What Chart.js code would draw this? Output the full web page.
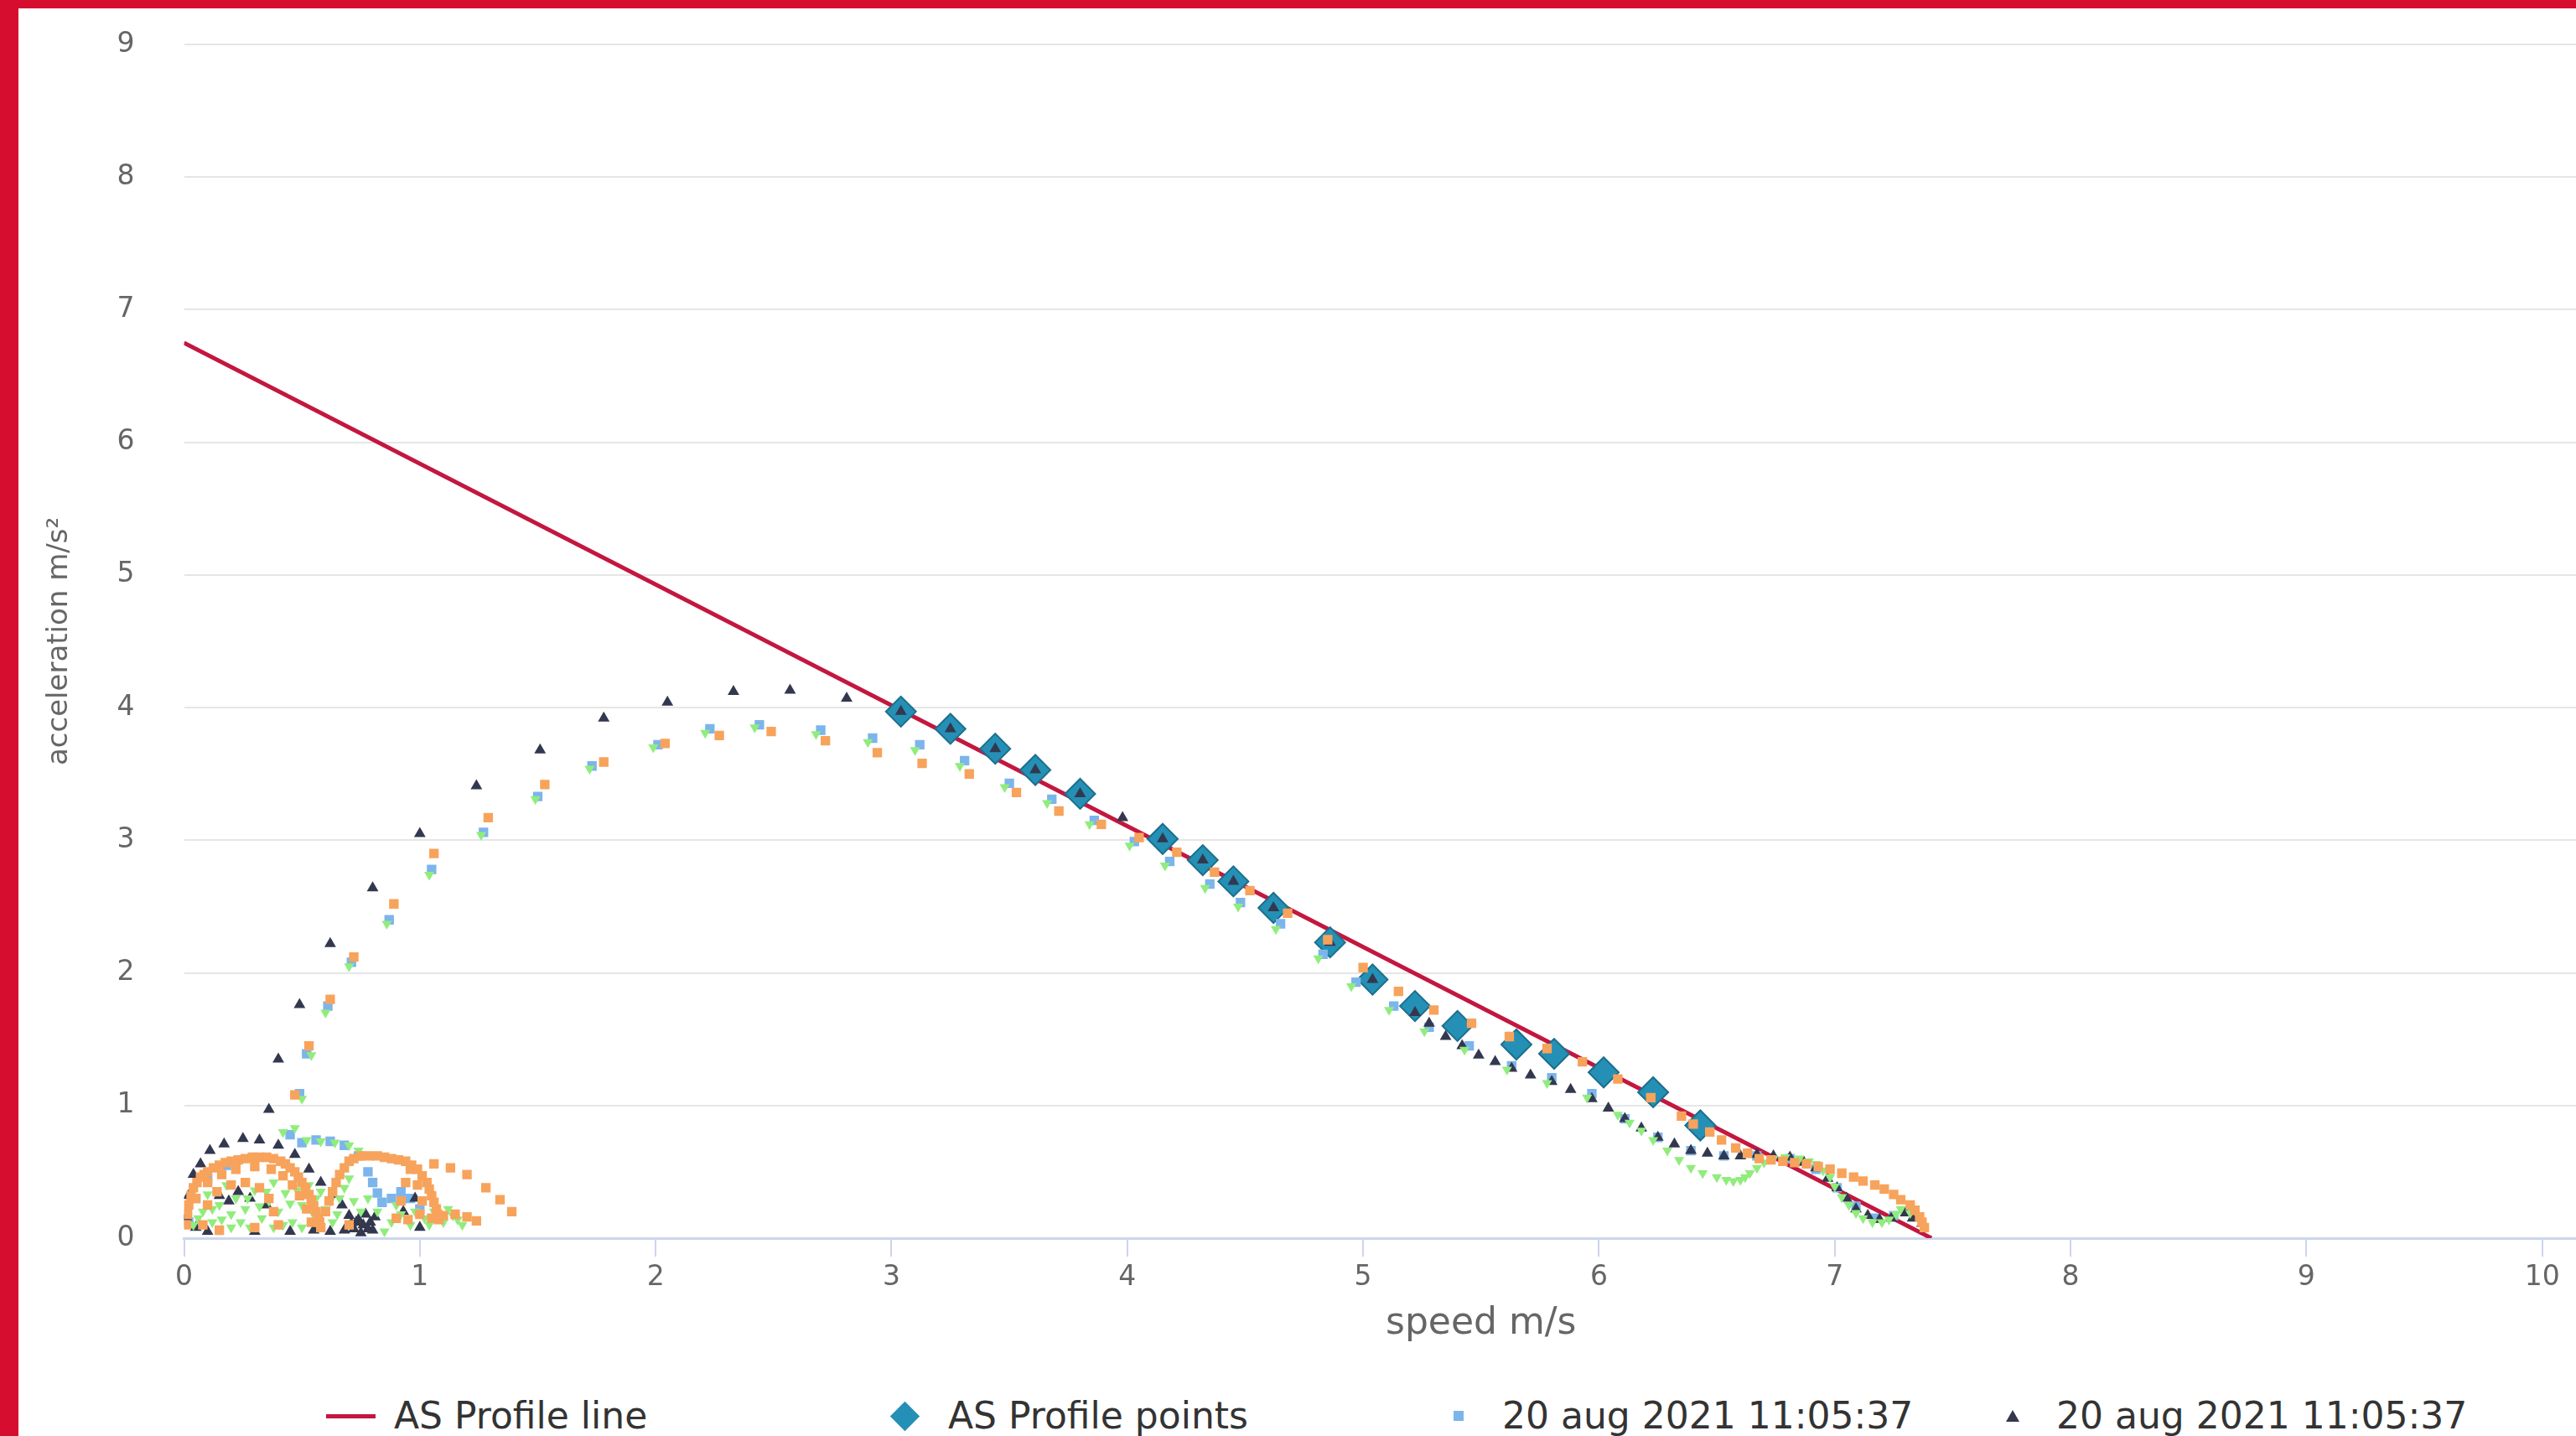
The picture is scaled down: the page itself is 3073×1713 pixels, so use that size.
<!DOCTYPE html>
<html>
<head>
<meta charset="utf-8">
<script src="https://cdn.jsdelivr.net/npm/chart.js@4.4.0/dist/chart.umd.min.js"></script>
<style>
  html, body { margin: 0; width: 3073px; height: 1713px; overflow: hidden; background: #d70d30; }
  #panel { position: absolute; left: 22px; top: 10px; width: 3400px; height: 1800px; background: #fff; }
  #chart { position: absolute; left: 0; top: 0; }
  #legend { position: absolute; left: 366px; top: 1657px; display: flex; font-family: 'DejaVu Sans', sans-serif; font-size: 44px; line-height: 1; color: #333; }
  .item { width: 661px; display: flex; align-items: center; white-space: nowrap; }
  .mark { width: 60px; height: 44px; margin-right: 22px; display: flex; align-items: center; justify-content: center; }
  .mark-line { width: 59px; height: 5px; }
  .mark-diamond { width: 25px; height: 25px; transform: rotate(45deg); }
  .mark-square { width: 12px; height: 12px; }
  .mark-triangle { width: 0; height: 0; border-left: 8px solid transparent; border-right: 8px solid transparent; }
</style>
</head>
<body>
<div id="panel">
  <canvas id="chart" width="3322" height="1617"></canvas>
  <div id="legend"></div>
</div>
<script>
// AS profile line (start and end of the straight profile)
const profileLine = [[0, 6.75], [7.41, 0]];

// AS profile points (diamonds)
const profilePoints = [
  [3.04, 3.97], [3.25, 3.84], [3.44, 3.69], [3.61, 3.53], [3.80, 3.35], [4.15, 3.01],
  [4.32, 2.85], [4.45, 2.69], [4.62, 2.49], [4.86, 2.23], [5.04, 1.95], [5.22, 1.75],
  [5.40, 1.60], [5.65, 1.46], [5.81, 1.39], [6.02, 1.25], [6.23, 1.10], [6.43, 0.85]
];

// run 1: squares
const runSquares = [
  [0.02, 0.12], [0.05, 0.30], [0.10, 0.45], [0.18, 0.55], [0.50, 0.72], [0.56, 0.74],
  [0.62, 0.73], [0.68, 0.70], [0.74, 0.62], [0.78, 0.50], [0.80, 0.42], [0.82, 0.34],
  [0.84, 0.27], [0.88, 0.30], [0.92, 0.35], [0.96, 0.30], [1.00, 0.22],
  [0.45, 0.78], [0.49, 1.09], [0.52, 1.39], [0.61, 1.75], [0.71, 2.08], [0.87, 2.40],
  [1.05, 2.78], [1.27, 3.06], [1.50, 3.33], [1.73, 3.56], [2.01, 3.72], [2.23, 3.84],
  [2.44, 3.87], [2.70, 3.83], [2.92, 3.77], [3.12, 3.72], [3.31, 3.60], [3.50, 3.43],
  [3.68, 3.31], [3.86, 3.15], [4.03, 2.99], [4.18, 2.84], [4.35, 2.67], [4.48, 2.53],
  [4.65, 2.37], [4.83, 2.14], [4.97, 1.93], [5.13, 1.75], [5.28, 1.59], [5.45, 1.45],
  [5.63, 1.30], [5.80, 1.21], [5.97, 1.09], [6.11, 0.90], [6.25, 0.76], [6.39, 0.66],
  [6.53, 0.62], [6.67, 0.62], [6.81, 0.60], [6.92, 0.52], [7.01, 0.38], [7.09, 0.24],
  [7.17, 0.15], [7.25, 0.17], [7.31, 0.20]
];

// run 2: triangles
const runTriangles = [
  [0.01, 0.16], [0.02, 0.32], [0.04, 0.48], [0.07, 0.56], [0.11, 0.66], [0.17, 0.71],
  [0.25, 0.75], [0.32, 0.74], [0.40, 0.70], [0.47, 0.63], [0.53, 0.52], [0.58, 0.42],
  [0.63, 0.33], [0.67, 0.25], [0.70, 0.17], [0.73, 0.12], [0.76, 0.10], [0.79, 0.12],
  [0.81, 0.16], [0.77, 0.18], [0.72, 0.07], [0.80, 0.06], [0.75, 0.04], [0.68, 0.06],
  [0.15, 0.32], [0.19, 0.28], [0.23, 0.35], [0.28, 0.30], [0.35, 0.25], [0.10, 0.05],
  [0.30, 0.05], [0.45, 0.05], [0.55, 0.06], [0.62, 0.05], [0.93, 0.20], [0.98, 0.30],
  [1.00, 0.08], [0.05, 0.08], [0.74, 0.14], [0.78, 0.07], [0.71, 0.11],
  [0.36, 0.97], [0.40, 1.35], [0.49, 1.76], [0.62, 2.22], [0.80, 2.64], [1.00, 3.05],
  [1.24, 3.41], [1.51, 3.68], [1.78, 3.92], [2.05, 4.04], [2.33, 4.12], [2.57, 4.13],
  [2.81, 4.07], [3.04, 3.97], [3.25, 3.84], [3.44, 3.69], [3.61, 3.53], [3.80, 3.35],
  [3.98, 3.17], [4.15, 3.01], [4.32, 2.85], [4.45, 2.69], [4.62, 2.49], [4.86, 2.23],
  [5.04, 1.95], [5.22, 1.70], [5.28, 1.62], [5.35, 1.52], [5.42, 1.45], [5.49, 1.38],
  [5.56, 1.33], [5.63, 1.28], [5.71, 1.23], [5.80, 1.18], [5.88, 1.12], [5.97, 1.05],
  [6.04, 0.98], [6.11, 0.90], [6.18, 0.83], [6.25, 0.76], [6.32, 0.71], [6.39, 0.66],
  [6.46, 0.64], [6.53, 0.62], [6.60, 0.62], [6.67, 0.63], [6.74, 0.62], [6.81, 0.61],
  [6.87, 0.57], [6.92, 0.53], [6.97, 0.45], [7.01, 0.38], [7.05, 0.30], [7.09, 0.22],
  [7.14, 0.17], [7.19, 0.14], [7.24, 0.15], [7.30, 0.19], [7.33, 0.15], [7.37, 0.11]
];

// run 3: green
const runGreen = [
  [0.04, 0.10], [0.08, 0.20], [0.12, 0.12], [0.15, 0.25], [0.20, 0.18], [0.22, 0.30],
  [0.26, 0.22], [0.30, 0.36], [0.33, 0.15], [0.36, 0.28], [0.40, 0.20], [0.43, 0.34],
  [0.46, 0.12], [0.50, 0.25], [0.53, 0.40], [0.56, 0.30], [0.60, 0.22], [0.63, 0.12],
  [0.66, 0.30], [0.70, 0.45], [0.28, 0.08], [0.18, 0.40], [0.38, 0.42], [0.10, 0.33],
  [0.06, 0.15], [0.12, 0.22], [0.16, 0.14], [0.24, 0.12], [0.27, 0.30], [0.32, 0.24],
  [0.35, 0.35], [0.42, 0.10], [0.45, 0.26], [0.48, 0.36], [0.55, 0.18], [0.58, 0.35],
  [0.62, 0.28], [0.65, 0.18], [0.68, 0.38], [0.72, 0.28], [0.75, 0.20], [0.20, 0.08],
  [0.38, 0.08], [0.50, 0.08],
  [0.42, 0.80], [0.52, 0.74], [0.58, 0.73], [0.64, 0.72], [0.70, 0.70], [0.74, 0.66],
  [0.88, 0.12], [0.92, 0.18], [0.96, 0.10], [1.02, 0.15], [1.06, 0.20], [1.10, 0.12],
  [1.14, 0.17], [1.18, 0.10], [0.85, 0.05], [0.78, 0.30], [0.82, 0.20], [0.90, 0.25],
  [0.98, 0.20], [1.04, 0.10], [1.12, 0.22], [1.16, 0.14],
  [0.47, 0.83], [0.50, 1.05], [0.54, 1.38], [0.60, 1.70], [0.70, 2.05], [0.86, 2.37],
  [1.04, 2.74], [1.26, 3.04], [1.49, 3.31], [1.72, 3.54], [1.99, 3.70], [2.21, 3.81],
  [2.42, 3.85], [2.68, 3.80], [2.90, 3.74], [3.10, 3.68], [3.29, 3.56], [3.48, 3.40],
  [3.66, 3.28], [3.84, 3.12], [4.01, 2.96], [4.16, 2.81], [4.33, 2.64], [4.47, 2.50],
  [4.63, 2.33], [4.81, 2.11], [4.95, 1.90], [5.11, 1.72], [5.26, 1.56], [5.43, 1.42],
  [5.61, 1.27], [5.78, 1.17], [5.95, 1.06], [6.08, 0.93], [6.13, 0.87], [6.18, 0.81],
  [6.23, 0.74], [6.29, 0.66], [6.34, 0.59], [6.39, 0.53], [6.44, 0.49], [6.50, 0.46],
  [6.54, 0.44], [6.57, 0.43], [6.60, 0.44], [6.62, 0.46], [6.64, 0.49], [6.67, 0.53],
  [6.70, 0.57], [6.74, 0.60], [6.79, 0.61], [6.85, 0.60], [6.89, 0.58], [6.92, 0.56],
  [6.95, 0.51], [6.98, 0.46], [7.00, 0.39], [7.03, 0.31], [7.06, 0.25], [7.09, 0.19],
  [7.12, 0.15], [7.16, 0.12], [7.20, 0.12], [7.23, 0.14], [7.26, 0.18], [7.28, 0.22],
  [7.32, 0.19]
];

// run 4: orange
const runOrange = [
  [0.01, 0.10], [0.02, 0.25], [0.04, 0.38], [0.07, 0.46], [0.10, 0.50], [0.15, 0.55],
  [0.20, 0.58], [0.26, 0.60], [0.32, 0.61], [0.38, 0.60], [0.43, 0.56], [0.47, 0.50],
  [0.50, 0.42], [0.53, 0.33], [0.55, 0.24], [0.57, 0.15], [0.58, 0.08],
  [0.015, 0.18], [0.03, 0.32], [0.055, 0.42], [0.085, 0.48], [0.125, 0.53], [0.175, 0.57],
  [0.23, 0.59], [0.29, 0.61], [0.35, 0.61], [0.41, 0.58], [0.45, 0.53], [0.485, 0.46],
  [0.515, 0.38], [0.54, 0.29], [0.56, 0.20], [0.575, 0.12],
  [0.05, 0.30], [0.10, 0.42], [0.16, 0.48], [0.22, 0.52], [0.30, 0.54], [0.37, 0.52],
  [0.42, 0.47], [0.46, 0.40], [0.49, 0.32], [0.52, 0.22], [0.54, 0.12],
  [0.08, 0.10], [0.10, 0.25], [0.14, 0.35], [0.20, 0.40], [0.26, 0.42], [0.32, 0.38],
  [0.36, 0.30], [0.38, 0.20], [0.40, 0.10],
  [0.60, 0.20], [0.63, 0.35], [0.66, 0.48], [0.70, 0.58], [0.75, 0.62], [0.82, 0.62],
  [0.88, 0.60], [0.94, 0.58], [0.99, 0.52], [1.03, 0.42], [1.05, 0.32], [1.07, 0.22],
  [1.08, 0.14], [0.615, 0.28], [0.645, 0.42], [0.68, 0.53], [0.72, 0.60], [0.785, 0.62],
  [0.85, 0.61], [0.91, 0.59], [0.965, 0.55], [1.01, 0.47], [1.04, 0.37], [1.06, 0.27],
  [1.075, 0.18], [0.90, 0.15], [0.92, 0.28], [0.94, 0.42], [0.96, 0.52], [0.99, 0.40],
  [1.01, 0.28], [1.06, 0.56], [1.13, 0.53], [1.20, 0.48], [1.28, 0.38], [1.34, 0.29],
  [1.39, 0.20], [0.95, 0.14], [1.00, 0.18], [1.05, 0.15], [1.10, 0.17], [1.15, 0.18],
  [1.20, 0.16], [1.24, 0.13], [0.70, 0.10], [0.30, 0.08], [0.15, 0.06],
  [0.47, 1.08], [0.53, 1.45], [0.62, 1.80], [0.72, 2.12], [0.89, 2.52], [1.06, 2.90],
  [1.29, 3.17], [1.53, 3.42], [1.78, 3.59], [2.04, 3.73], [2.27, 3.79], [2.49, 3.82],
  [2.72, 3.75], [2.94, 3.66], [3.13, 3.58], [3.33, 3.50], [3.53, 3.36], [3.71, 3.22],
  [3.89, 3.12], [4.05, 3.02], [4.21, 2.91], [4.37, 2.76], [4.52, 2.62], [4.68, 2.45],
  [4.85, 2.25], [5.00, 2.04], [5.15, 1.86], [5.30, 1.72], [5.46, 1.62], [5.62, 1.52],
  [5.78, 1.43], [5.93, 1.33], [6.08, 1.20], [6.22, 1.06], [6.35, 0.92], [6.40, 0.86],
  [6.47, 0.80], [6.52, 0.74], [6.58, 0.68], [6.63, 0.64], [6.68, 0.60], [6.73, 0.59],
  [6.78, 0.58], [6.83, 0.57], [6.88, 0.56], [6.93, 0.54], [6.98, 0.52], [7.03, 0.49],
  [7.08, 0.46], [7.12, 0.43], [7.17, 0.40], [7.21, 0.37], [7.25, 0.33], [7.28, 0.29],
  [7.32, 0.25], [7.34, 0.21], [7.36, 0.16], [7.37, 0.12], [7.38, 0.08]
];

const xTicksMax = 11;
const yTicksMax = 9;

const toPoints = (pairs) => pairs.map(([x, y]) => ({ x, y }));

Chart.defaults.font.family = "'DejaVu Sans', sans-serif";

const datasets = [
  {
    label: "AS Profile line",
    data: toPoints(profileLine),
    showLine: true,
    borderColor: "#c3173f",
    borderWidth: 5,
    pointRadius: 0,
    order: 5,
    legendMark: "line",
  },
  {
    label: "AS Profile points",
    data: toPoints(profilePoints),
    pointStyle: "rectRot",
    pointRadius: 18,
    backgroundColor: "#2590b5",
    borderColor: "#1d6f8c",
    borderWidth: 2,
    order: 4,
    legendMark: "diamond",
  },
  {
    label: "20 aug 2021 11:05:37",
    data: toPoints(runSquares),
    pointStyle: "rect",
    pointRadius: 8,
    backgroundColor: "#7cb5ec",
    borderWidth: 0,
    order: 3,
    legendMark: "square",
  },
  {
    label: "20 aug 2021 11:05:37",
    data: toPoints(runTriangles),
    pointStyle: "triangle",
    pointRadius: 8,
    backgroundColor: "#33384f",
    borderWidth: 0,
    order: 2,
    legendMark: "triangle",
  },
  {
    label: "run 3",
    data: toPoints(runGreen),
    pointStyle: "triangle",
    rotation: 180,
    pointRadius: 7,
    backgroundColor: "#90ed7d",
    borderWidth: 0,
    order: 1,
  },
  {
    label: "run 4",
    data: toPoints(runOrange),
    pointStyle: "rect",
    pointRadius: 8,
    backgroundColor: "#f7a35c",
    borderWidth: 0,
    order: 0,
  },
];

new Chart(document.getElementById("chart"), {
  type: "scatter",
  data: { datasets },
  options: {
    responsive: false,
    animation: false,
    devicePixelRatio: 1,
    layout: { padding: { top: 43, right: 30, bottom: 0, left: 0 } },
    plugins: { legend: { display: false }, tooltip: { enabled: false } },
    scales: {
      x: {
        type: "linear",
        min: 0,
        max: xTicksMax,
        ticks: { stepSize: 1, padding: 6, color: "#666", font: { size: 33 } },
        grid: { drawOnChartArea: false, drawTicks: true, tickLength: 22, color: "#ccd6eb", lineWidth: 2 },
        border: { color: "#ccd6eb", width: 3 },
        title: { display: true, text: "speed m/s", color: "#666", font: { size: 44 }, padding: { top: 0, bottom: 21 } },
        afterFit: (scale) => { scale.height = 150; },
      },
      y: {
        min: 0,
        max: yTicksMax,
        // invisible tick marks keep the labels away from the plot without adding top padding
        ticks: { stepSize: 1, padding: 10, color: "#666", font: { size: 33 } },
        grid: { color: "#e6e6e6", lineWidth: 2, drawTicks: true, tickLength: 49, tickColor: "rgba(0,0,0,0)" },
        border: { display: false },
        title: { display: true, text: "acceleration m/s²", color: "#666", font: { size: 34 }, padding: { top: 29, bottom: 0 } },
        afterFit: (scale) => { scale.width = 197.5; },
      },
    },
  },
});

// HTML legend for the visible series (fixed columns, like the original)
const legendEl = document.getElementById("legend");
datasets.filter((d) => d.legendMark).forEach((d) => {
  const item = document.createElement("div");
  item.className = "item";
  const box = document.createElement("span");
  box.className = "mark";
  const m = document.createElement("span");
  m.className = "mark-" + d.legendMark;
  if (d.legendMark === "line") m.style.background = d.borderColor;
  else if (d.legendMark === "triangle") m.style.borderBottom = "14px solid " + d.backgroundColor;
  else m.style.background = d.backgroundColor;
  box.appendChild(m);
  const text = document.createElement("span");
  text.textContent = d.label;
  item.appendChild(box);
  item.appendChild(text);
  legendEl.appendChild(item);
});
</script>
</body>
</html>
